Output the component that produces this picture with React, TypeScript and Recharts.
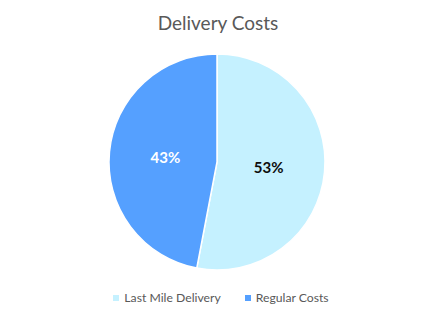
import React from "react";
import { Cell, Pie, PieChart } from "recharts";

const categories = ["Last Mile Delivery", "Regular Costs"];
const sliceValues = [53, 47];
const labelTexts = ["53%", "43%"];
const colors = ["#C5F1FF", "#55A0FF"];
const labelColors = ["#0D0D0D", "#FFFFFF"];

const data = categories.map((name, i) => ({
  name,
  value: sliceValues[i],
  label: labelTexts[i],
}));

const RADIAN = Math.PI / 180;

const renderLabel = (props: any) => {
  const { cx, cy, midAngle, outerRadius, index } = props;
  const r = outerRadius * 0.48;
  const x = cx + r * Math.cos(-midAngle * RADIAN);
  const y = cy + r * Math.sin(-midAngle * RADIAN);
  return (
    <text
      x={x}
      y={y}
      fill={labelColors[index]}
      textAnchor="middle"
      dominantBaseline="central"
      fontFamily="Lato, 'Open Sans', sans-serif"
      fontWeight="bold"
      fontSize={15}
    >
      {labelTexts[index]}
    </text>
  );
};

export default function App() {
  return (
    <div
      style={{
        position: "absolute",
        left: 0,
        top: 0,
        width: 436,
        height: 320,
        background: "#fff",
        fontFamily: "Lato, 'Open Sans', sans-serif",
      }}
    >
      <div
        style={{
          position: "absolute",
          top: 11,
          width: 436,
          textAlign: "center",
          fontSize: 19,
          color: "#595959",
        }}
      >
        Delivery Costs
      </div>
      <PieChart width={436} height={320} margin={{ top: 0, right: 0, bottom: 0, left: 0 }}>
        <Pie
          data={data}
          dataKey="value"
          nameKey="name"
          cx={217}
          cy={162}
          outerRadius={108}
          startAngle={90}
          endAngle={-270}
          stroke="#FFFFFF"
          strokeWidth={1.5}
          label={renderLabel}
          labelLine={false}
          isAnimationActive={false}
        >
          {data.map((d, i) => (
            <Cell key={d.name} fill={colors[i]} />
          ))}
        </Pie>
      </PieChart>
      <div
        style={{
          position: "absolute",
          top: 290,
          left: 3,
          width: 436,
          display: "flex",
          justifyContent: "center",
          gap: 24,
          fontSize: 12.2,
          color: "#595959",
        }}
      >
        {data.map((d, i) => (
          <div key={d.name} style={{ display: "flex", alignItems: "center" }}>
            <span
              style={{
                display: "inline-block",
                width: 6,
                height: 6,
                background: colors[i],
                marginRight: 5,
              }}
            />
            {d.name}
          </div>
        ))}
      </div>
    </div>
  );
}
